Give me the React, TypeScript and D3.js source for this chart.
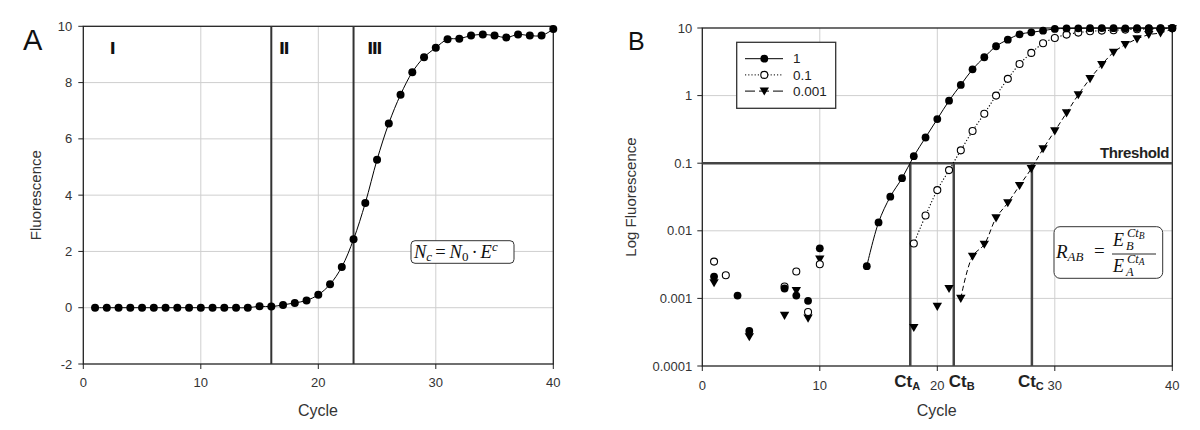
import React from "react";
import * as d3 from "d3";

// ---------- DATA ----------
const cyclesA: number[] = d3.range(1, 41);
const fluorescenceA: number[] = [
  0, 0, 0, 0, 0, 0, 0, 0, 0, 0, 0, 0, 0, 0, 0.05, 0.04, 0.1, 0.17, 0.26, 0.46,
  0.83, 1.45, 2.43, 3.72, 5.26, 6.55, 7.57, 8.37, 8.9, 9.24, 9.54, 9.56, 9.67, 9.71, 9.67, 9.6,
  9.71, 9.67, 9.67, 9.9,
];
const phaseBoundaries: number[] = [16, 23];
const phaseLabels: string[] = ["Ⅰ", "Ⅱ", "Ⅲ"];
const phaseLabelCycles: number[] = [2.5, 17.1, 24.8];
const yTicksA: number[] = [-2, 0, 2, 4, 6, 8, 10];
const xTicks: number[] = [0, 10, 20, 30, 40];

const cyclesB: number[] = d3.range(1, 41);
const series1: (number | null)[] = [
  0.0021, null, 0.0011, 0.00033, null, null, 0.0014, 0.0011, 0.00092, 0.0055,
  null, null, null, 0.003, 0.0133, 0.032, 0.06, 0.127, 0.24, 0.45,
  0.84, 1.44, 2.45, 3.69, 5.37, 6.73, 8.07, 8.64, 9.13, 9.7,
  9.85, 9.9, 9.95, 9.97, 9.95, 9.9, 9.97, 9.95, 9.95, 10,
];
const series01: (number | null)[] = [
  0.0035, 0.0022, null, null, null, null, 0.0015, 0.0025, 0.00063, 0.0032,
  null, null, null, null, null, null, null, 0.0065, 0.0168, 0.04,
  0.079, 0.155, 0.3, 0.54, 1.0, 1.77, 2.94, 4.28, 5.94, 7.13,
  7.98, 8.55, 8.93, 9.16, 9.25, 9.47, 9.56, 9.7, 9.8, 9.9,
];
const series0001: (number | null)[] = [
  0.0017, null, null, 0.00027, null, null, 0.00056, 0.0013, 0.00051, 0.0038,
  null, null, null, null, null, null, null, 0.00037, null, 0.00076,
  0.0014, 0.001, 0.0042, 0.0063, 0.0155, 0.0259, 0.0467, 0.083, 0.163, 0.3,
  0.555, 1.03, 1.78, 2.87, 4.37, 5.68, 6.89, 7.98, 8.46, 9.69,
];
const seriesNames: string[] = ["1", "0.1", "0.001"];
const lineStartCycles: number[] = [14, 18, 22];
const threshold = 0.1;
const ctValues: number[] = [17.7, 21.4, 28.05];
const ctSubs: string[] = ["A", "B", "C"];
const yTicksB: number[] = [0.0001, 0.001, 0.01, 0.1, 1, 10];
const yTickLabelsB: string[] = ["0.0001", "0.001", "0.01", "0.1", "1", "10"];

// ---------- STYLE ----------
const SANS = "'Liberation Sans', Arial, sans-serif";
const SERIF = "'Liberation Serif', 'Times New Roman', serif";
const GRID = "#cfcfcf";
const AXIS = "#222";
const TICKTXT = "#333";

const xA = d3.scaleLinear().domain([0, 40]).range([83.3, 553.3]);
const yA = d3.scaleLinear().domain([-2, 10]).range([364, 26.3]);
const xB = d3.scaleLinear().domain([0, 40]).range([702.3, 1172.3]);
const yB = d3.scaleLog().domain([0.0001, 10]).range([366, 28]);

function Marker({ kind, cx, cy }: { kind: number; cx: number; cy: number }) {
  if (kind === 0) return <circle cx={cx} cy={cy} r={3.9} fill="#000" />;
  if (kind === 1)
    return <circle cx={cx} cy={cy} r={3.5} fill="#fff" stroke="#000" strokeWidth={1.1} />;
  const w = 4.7;
  return (
    <path
      d={`M${cx - w},${cy - 3.6}L${cx + w},${cy - 3.6}L${cx},${cy + 4.5}Z`}
      fill="#000"
    />
  );
}

const dashes = [undefined, "1.2,2", "5,3"];

export default function App() {
  const lineA = d3
    .line<number>()
    .x((_, i) => xA(cyclesA[i]))
    .y((d) => yA(d))
    .curve(d3.curveCatmullRom.alpha(0.5));

  const allSeries = [series1, series01, series0001];
  const lineB = d3
    .line<[number, number]>()
    .x((d) => xB(d[0]))
    .y((d) => yB(d[1]))
    .curve(d3.curveCatmullRom.alpha(0.5));

  return (
    <svg
      width={1200}
      height={430}
      style={{ position: "absolute", left: 0, top: 0, background: "#fff" }}
      fontFamily={SANS}
    >
      <rect x={0} y={0} width={1200} height={430} fill="#fff" />
      {/* ================= PANEL A ================= */}
      <text x={23} y={50} fontSize={29} fill="#111">A</text>
      {yTicksA.filter((t) => t > -2 && t < 10).map((t) => (
        <line key={"gay" + t} x1={xA(0)} x2={xA(40)} y1={yA(t)} y2={yA(t)} stroke={GRID} strokeWidth={1} />
      ))}
      {xTicks.filter((t) => t > 0 && t < 40).map((t) => (
        <line key={"gax" + t} x1={xA(t)} x2={xA(t)} y1={yA(-2)} y2={yA(10)} stroke={GRID} strokeWidth={1} />
      ))}
      <rect x={xA(0)} y={yA(10)} width={xA(40) - xA(0)} height={yA(-2) - yA(10)} fill="none" stroke={AXIS} strokeWidth={1.3} />
      {yTicksA.map((t) => (
        <g key={"tay" + t}>
          <line x1={xA(0) - 5} x2={xA(0)} y1={yA(t)} y2={yA(t)} stroke={AXIS} />
          <text x={xA(0) - 11} y={yA(t)} dy="0.35em" textAnchor="end" fontSize={13} fill={TICKTXT}>{t}</text>
        </g>
      ))}
      {xTicks.map((t) => (
        <g key={"tax" + t}>
          <line x1={xA(t)} x2={xA(t)} y1={yA(-2)} y2={yA(-2) + 5} stroke={AXIS} />
          <text x={xA(t)} y={yA(-2) + 18} dy="0.35em" textAnchor="middle" fontSize={13} fill={TICKTXT}>{t}</text>
        </g>
      ))}
      {phaseBoundaries.map((c) => (
        <line key={"pb" + c} x1={xA(c)} x2={xA(c)} y1={yA(10)} y2={yA(-2)} stroke="#333" strokeWidth={2} />
      ))}
      {phaseLabels.map((l, i) => (
        <text key={"pl" + i} x={xA(phaseLabelCycles[i])} y={yA(9.2)} dy="0.35em" textAnchor="middle" fontSize={16} fontWeight="bold" fontFamily="'DejaVu Sans', sans-serif" fill="#111">{l}</text>
      ))}
      <path d={lineA(fluorescenceA) || ""} fill="none" stroke="#000" strokeWidth={1} />
      {fluorescenceA.map((v, i) => (
        <circle key={"pa" + i} cx={xA(cyclesA[i])} cy={yA(v)} r={4} fill="#000" />
      ))}
      <text x={318} y={416} textAnchor="middle" fontSize={16} fill="#333">Cycle</text>
      <text transform={`translate(41,${(yA(10) + yA(-2)) / 2}) rotate(-90)`} textAnchor="middle" fontSize={15} fill="#333">Fluorescence</text>
      {/* formula box A */}
      <rect x={411} y={240.7} width={103} height={22.6} rx={4} fill="#fff" stroke="#333" strokeWidth={1} />
      <text x={414} y={257.5} fontFamily={SERIF} fontSize={18.5} fill="#111">
        <tspan fontStyle="italic">N</tspan>
        <tspan fontStyle="italic" fontSize={13} dy={3}>c</tspan>
        <tspan dy={-3} dx={3}>=</tspan>
        <tspan fontStyle="italic" dx={4}>N</tspan>
        <tspan fontSize={13} dy={3}>0</tspan>
        <tspan dy={-3} dx={3}>·</tspan>
        <tspan fontStyle="italic" dx={3}>E</tspan>
        <tspan fontStyle="italic" fontSize={13} dy={-7}>c</tspan>
      </text>

      {/* ================= PANEL B ================= */}
      <text x={628} y={49.5} fontSize={25} fill="#111">B</text>
      {yTicksB.filter((t) => t > 0.0001 && t < 10 && t !== threshold).map((t) => (
        <line key={"gby" + t} x1={xB(0)} x2={xB(40)} y1={yB(t)} y2={yB(t)} stroke={GRID} strokeWidth={1} />
      ))}
      {xTicks.filter((t) => t > 0 && t < 40).map((t) => (
        <line key={"gbx" + t} x1={xB(t)} x2={xB(t)} y1={yB(0.0001)} y2={yB(10)} stroke={GRID} strokeWidth={1} />
      ))}
      <rect x={xB(0)} y={yB(10)} width={xB(40) - xB(0)} height={yB(0.0001) - yB(10)} fill="none" stroke={AXIS} strokeWidth={1.3} />
      {yTicksB.map((t, i) => (
        <g key={"tby" + t}>
          <line x1={xB(0) - 5} x2={xB(0)} y1={yB(t)} y2={yB(t)} stroke={AXIS} />
          <text x={xB(0) - 10} y={yB(t)} dy="0.35em" textAnchor="end" fontSize={13} fill={TICKTXT}>{yTickLabelsB[i]}</text>
        </g>
      ))}
      {xTicks.map((t) => (
        <g key={"tbx" + t}>
          <line x1={xB(t)} x2={xB(t)} y1={yB(0.0001)} y2={yB(0.0001) + 5} stroke={AXIS} />
          <text x={xB(t)} y={yB(0.0001) + 19} dy="0.35em" textAnchor="middle" fontSize={13} fill={TICKTXT}>{t}</text>
        </g>
      ))}
      <line x1={xB(0)} x2={xB(40)} y1={yB(threshold)} y2={yB(threshold)} stroke="#444" strokeWidth={2.5} />
      <text x={1169} y={158} textAnchor="end" fontSize={15} fontWeight="bold" fill="#222" letterSpacing={-0.4}>Threshold</text>
      {ctValues.map((c, i) => (
        <line key={"ct" + i} x1={xB(c)} x2={xB(c)} y1={yB(threshold)} y2={yB(0.0001)} stroke="#444" strokeWidth={2.5} />
      ))}
      {ctValues.map((c, i) => (
        <text key={"ctl" + i} x={xB(c) + [-16, -5, -14][i]} y={386.5} fontSize={17} fontWeight="bold" fill="#222">
          Ct<tspan fontSize={11} dy={3}>{ctSubs[i]}</tspan>
        </text>
      ))}
      {allSeries.map((s, k) => {
        const pts: [number, number][] = [];
        s.forEach((v, i) => {
          if (v != null && cyclesB[i] >= lineStartCycles[k]) pts.push([cyclesB[i], v]);
        });
        return (
          <path key={"ls" + k} d={lineB(pts) || ""} fill="none" stroke="#000" strokeWidth={k === 1 ? 1.1 : 1} strokeDasharray={dashes[k]} />
        );
      })}
      {[2, 1, 0].map((k) =>
        allSeries[k].map((v, i) =>
          v == null ? null : <Marker key={`m${k}-${i}`} kind={k} cx={xB(cyclesB[i])} cy={yB(v)} />
        )
      )}
      {/* legend */}
      <rect x={736.7} y={42.3} width={99} height={66} fill="#fff" stroke="#333" strokeWidth={1.3} />
      {seriesNames.map((n, k) => {
        const ly = 58.7 + k * 16.2;
        return (
          <g key={"lg" + k}>
            <line x1={745} x2={783} y1={ly} y2={ly} stroke="#000" strokeWidth={1} strokeDasharray={k === 2 ? "10,4" : dashes[k]} />
            <Marker kind={k} cx={764.3} cy={ly} />
            <text x={793} y={ly} dy="0.35em" fontSize={13.5} fill="#222">{n}</text>
          </g>
        );
      })}
      <text x={936.7} y={416} textAnchor="middle" fontSize={16} fill="#333">Cycle</text>
      <text transform={`translate(636,${(yB(10) + yB(0.0001)) / 2}) rotate(-90)`} textAnchor="middle" fontSize={15} fill="#333">Log Fluorescence</text>
      {/* formula box B */}
      <rect x={1054} y={226.7} width={108.7} height={51.6} rx={6} fill="#fff" stroke="#333" strokeWidth={1} />
      <g fontFamily={SERIF} fill="#111">
        <text x={1056} y={258} fontSize={19} fontStyle="italic">
          R<tspan fontSize={13} dy={3}>AB</tspan>
        </text>
        <text x={1094} y={257} fontSize={19}>=</text>
        <text x={1113} y={245.5} fontSize={18} fontStyle="italic">E</text>
        <text x={1126} y={249.5} fontSize={12.5} fontStyle="italic">B</text>
        <text x={1127} y={237} fontSize={12.5} fontStyle="italic">
          Ct<tspan fontSize={9.5} dy={2}>B</tspan>
        </text>
        <line x1={1112} x2={1156} y1={254} y2={254} stroke="#111" strokeWidth={0.9} />
        <text x={1113} y={271.5} fontSize={18} fontStyle="italic">E</text>
        <text x={1126} y={275.5} fontSize={12.5} fontStyle="italic">A</text>
        <text x={1127} y={263} fontSize={12.5} fontStyle="italic">
          Ct<tspan fontSize={9.5} dy={2}>A</tspan>
        </text>
      </g>
    </svg>
  );
}
